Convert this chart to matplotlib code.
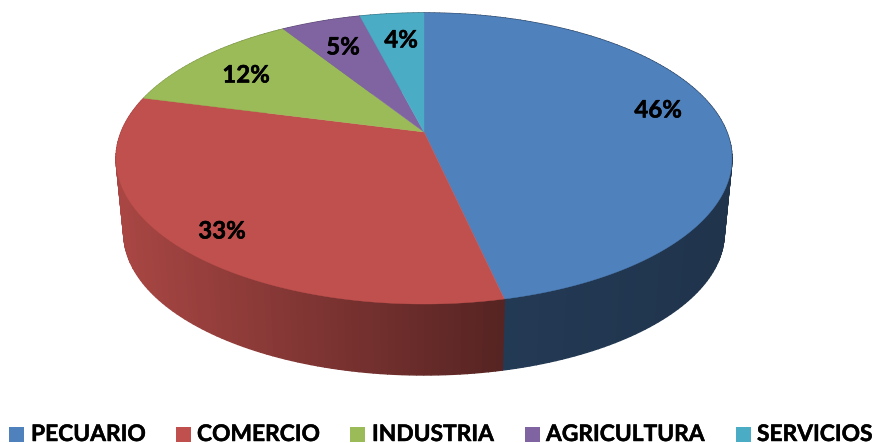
import numpy as np
import matplotlib
matplotlib.use('Agg')
import matplotlib.pyplot as plt
import matplotlib.patheffects as pe
from matplotlib.patches import Rectangle

categories = ['PECUARIO', 'COMERCIO', 'INDUSTRIA', 'AGRICULTURA', 'SERVICIOS']
values = [46.5, 32.55, 11.95, 5, 4]
colors = ['#4F81BD', '#C0504D', '#9BBB59', '#8064A2', '#4BACC6']

# where the texts sit, in image pixels
label_pos = [(658, 110), (222, 231), (246, 75), (343, 47), (401, 40)]
legend_box_x = [9, 176, 350, 525, 736]
legend_text_x = [31, 197, 372, 546, 757]

plt.rcParams['font.family'] = ['Lato', 'DejaVu Sans']

# perspective of the top disc, fitted to the picture
CX, CY = 424, 132
RX, RY, K = 302.8, 140.7, 0.182


def top_edge(a):
    w = 1 + K * np.sin(a)
    return CX + RX * np.cos(a) / w, CY - RY * np.sin(a) / w


def bottom_edge(a):
    # bottom disc is a bit smaller, so the wall tapers inwards
    x, y = top_edge(a)
    return CX + 0.975 * (x - CX), 0.975 * y + 78.6


def shade(color, x):
    f = np.interp(x, [116, 500, 732], [0.88, 0.45, 0.40])
    r, g, b = matplotlib.colors.to_rgb(color)
    return (r * f, g * f, b * f)


fig = plt.figure(figsize=(8.75, 4.43), dpi=100)
ax = fig.add_axes([0, 0, 1, 1])
ax.set_xlim(0, 875)
ax.set_ylim(443, 0)
ax.axis('off')

# slices run clockwise from 12 o'clock
fracs = np.cumsum([0] + values) / sum(values)
angles = np.pi / 2 - 2 * np.pi * fracs

# walls first, the top discs cover whatever is behind
for i, color in enumerate(colors):
    n = max(int(abs(angles[i] - angles[i + 1]) / 0.02), 2)
    edge = np.linspace(angles[i], angles[i + 1], n + 1)
    for a0, a1 in zip(edge[:-1], edge[1:]):
        x0, y0 = top_edge(a0)
        x1, y1 = top_edge(a1)
        x2, y2 = bottom_edge(a1)
        x3, y3 = bottom_edge(a0)
        c = shade(color, (x0 + x1) / 2)
        ax.fill([x0, x1, x2, x3], [y0, y1, y2, y3], color=c, lw=1.0)

for i, color in enumerate(colors):
    t = np.linspace(angles[i], angles[i + 1], 200)
    x, y = top_edge(t)
    ax.fill(np.r_[CX, x], np.r_[CY, y], color=color, lw=0.3)

fatten = [pe.withStroke(linewidth=0.35, foreground='black')]

for v, (x, y) in zip(values, label_pos):
    ax.text(x, y, f'{v:.0f}%', ha='center', va='center', fontsize=17.3,
            fontweight='bold', color='black', path_effects=fatten)

for name, color, bx, tx in zip(categories, colors, legend_box_x, legend_text_x):
    ax.add_patch(Rectangle((bx, 427), 15, 15, facecolor=color, edgecolor='none'))
    ax.text(tx, 441, name, ha='left', va='baseline', fontsize=16.4,
            fontweight='bold', color='black', path_effects=fatten)

plt.savefig('out.png', dpi=100)
